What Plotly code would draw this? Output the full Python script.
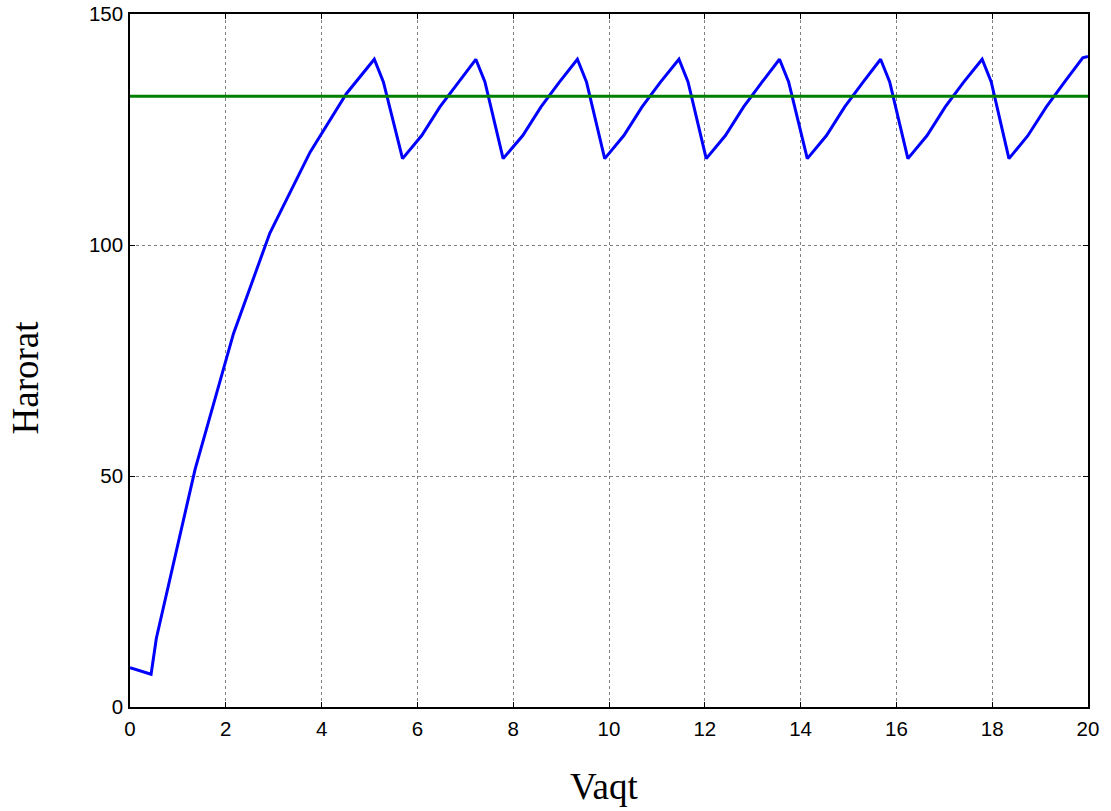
import plotly.graph_objects as go

# Time (Vaqt) and temperature (Harorat) samples
vaqt = [0.0, 0.44, 0.55, 1.36, 2.16, 2.92, 3.76, 4.52, 5.10, 5.29, 5.69, 6.09, 6.47, 6.85,
        7.22, 7.41, 7.79, 8.20, 8.58, 8.96,
        9.34, 9.53, 9.91, 10.31, 10.69, 11.07,
        11.46, 11.65, 12.03, 12.43, 12.81, 13.19,
        13.56, 13.75, 14.14, 14.54, 14.92, 15.30,
        15.67, 15.86, 16.24, 16.64, 17.02, 17.40,
        17.79, 17.98, 18.35, 18.74, 19.13, 19.52, 19.89, 20.0]
harorat = [8.5, 7.1, 14.9, 51.5, 80.8, 102.6, 120.1, 132.8, 140.2, 135.3, 118.7, 123.7, 129.9, 135.2,
           140.2, 135.3, 118.7, 123.7, 129.9, 135.2,
           140.2, 135.3, 118.7, 123.7, 129.9, 135.2,
           140.2, 135.3, 118.7, 123.7, 129.9, 135.2,
           140.2, 135.3, 118.7, 123.7, 129.9, 135.2,
           140.2, 135.3, 118.7, 123.7, 129.9, 135.2,
           140.2, 135.3, 118.7, 123.6, 129.9, 135.4, 140.5, 140.8]

setpoint_x = [0, 20]
setpoint_y = [132.2, 132.2]

x_ticks = [0, 2, 4, 6, 8, 10, 12, 14, 16, 18, 20]
y_ticks = [0, 50, 100, 150]

x_title = "Vaqt"
y_title = "Harorat"

fig = go.Figure()
fig.add_trace(go.Scatter(x=vaqt, y=harorat, mode="lines",
                         line=dict(color="#0000FF", width=3), showlegend=False))
fig.add_trace(go.Scatter(x=setpoint_x, y=setpoint_y, mode="lines",
                         line=dict(color="#008000", width=3), showlegend=False))

axis_common = dict(
    showline=True, linecolor="black", linewidth=1.5, mirror="ticks",
    ticks="inside", ticklen=5, tickcolor="black", tickwidth=1,
    showgrid=True, gridcolor="#808080", griddash="dot", gridwidth=1,
    zeroline=False, automargin=False, ticklabeloverflow="allow",
    tickfont=dict(family="Liberation Sans, Arial", size=20.5, color="black"),
)

title_font = dict(family="Liberation Serif, Times New Roman", size=37, color="black")

fig.update_layout(
    width=1111, height=811,
    margin=dict(l=130, r=23, t=14, b=104),
    paper_bgcolor="white", plot_bgcolor="white",
    xaxis=dict(range=[0, 20], tickvals=x_ticks, ticktext=[str(v) for v in x_ticks],
               ticklabelstandoff=3,
               **axis_common),
    yaxis=dict(range=[0, 150], tickvals=y_ticks, ticktext=[str(v) for v in y_ticks],
               ticklabelstandoff=1,
               **axis_common),
    annotations=[
        dict(text=x_title, xref="paper", yref="paper", x=0.5, y=0,
             xanchor="center", yanchor="middle", xshift=-5, yshift=-79,
             showarrow=False, font=title_font),
        dict(text=y_title, xref="paper", yref="paper", x=0, y=0.5,
             xanchor="center", yanchor="middle", xshift=-105, yshift=-17,
             textangle=-90, showarrow=False, font=title_font),
    ],
)

fig.write_html("out.html",
               config={"displayModeBar": False},
               post_script="document.body.style.margin='0px';document.body.style.overflow='hidden';")
